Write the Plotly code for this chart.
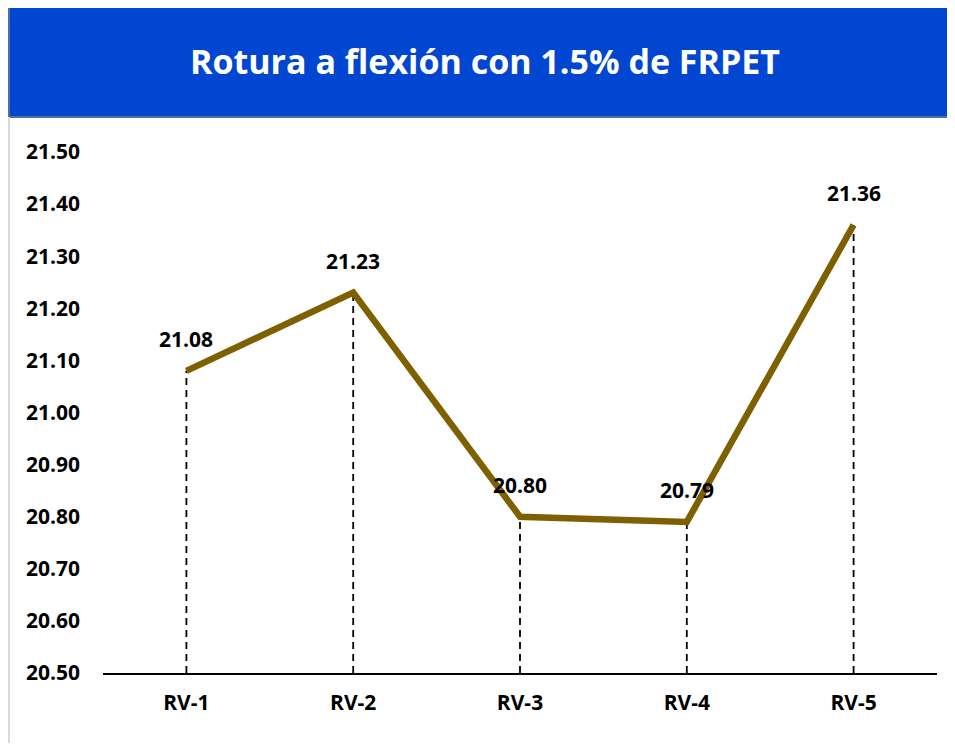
import plotly.graph_objects as go

categories = ["RV-1", "RV-2", "RV-3", "RV-4", "RV-5"]
values = [21.08, 21.23, 20.80, 20.79, 21.36]
y_ticks = [20.50, 20.60, 20.70, 20.80, 20.90, 21.00, 21.10, 21.20, 21.30, 21.40, 21.50]
title_text = "Rotura a flexión con 1.5% de FRPET"
y_min, y_max = 20.5, 21.5

FONT = "Open Sans, Lato, sans-serif"

fig = go.Figure()

# dashed drop lines
for c, v in zip(categories, values):
    fig.add_trace(go.Scatter(
        x=[c, c], y=[y_min, v], mode="lines",
        line=dict(color="black", width=1.8, dash="7px,5px"),
        hoverinfo="skip", showlegend=False))

fig.add_trace(go.Scatter(
    x=categories, y=values, mode="lines",
    line=dict(color="#7F6000", width=6.5),
    showlegend=False))

for c, v in zip(categories, values):
    fig.add_annotation(x=c, y=v, text=f"<b>{v:.2f}</b>", showarrow=False,
                       yshift=32, font=dict(family=FONT, size=21, color="black"))

# page offset (body margin) = 8px
OFF = 8
W, H = 955 - 2 * OFF, 751 - 2 * OFF
L, T = 103 - OFF, 152 - OFF
R = W - (937 - OFF)
B = H - (673 - OFF)
pw, ph = W - L - R, H - T - B

def px_x(p):
    return (p - OFF - L) / pw

def px_y(p):
    return (H - B - (p - OFF)) / ph

# title bar
fig.add_shape(type="rect", xref="paper", yref="paper",
              x0=px_x(9), x1=px_x(960), y0=px_y(117), y1=px_y(2),
              fillcolor="#0046D0", line=dict(color="#4F7398", width=2), layer="below")
# outer left border
fig.add_shape(type="line", xref="paper", yref="paper",
              x0=px_x(9), x1=px_x(9), y0=px_y(760), y1=px_y(117),
              line=dict(color="#D9D9D9", width=2))

fig.add_annotation(xref="paper", yref="paper", x=px_x(485), y=px_y(61),
                   text=f"<b>{title_text}</b>", showarrow=False,
                   font=dict(family=FONT, size=34, color="white"),
                   xanchor="center", yanchor="middle")

fig.update_layout(
    width=W, height=H,
    margin=dict(l=L, r=R, t=T, b=B),
    paper_bgcolor="white", plot_bgcolor="white",
    xaxis=dict(type="category", range=[-0.5, 4.5], showgrid=False,
               showline=True, linecolor="black", linewidth=2,
               ticks="", tickfont=dict(family=FONT, size=21, color="black", weight="bold"),
               ticklabelstandoff=10),
    yaxis=dict(range=[y_min, y_max], tickvals=y_ticks,
               ticktext=[f"{t:.2f}" for t in y_ticks],
               showgrid=False, zeroline=False, showline=False, ticks="",
               tickfont=dict(family=FONT, size=21, color="black", weight="bold"),
               ticklabelstandoff=22),
)

fig.write_html("out.html")
